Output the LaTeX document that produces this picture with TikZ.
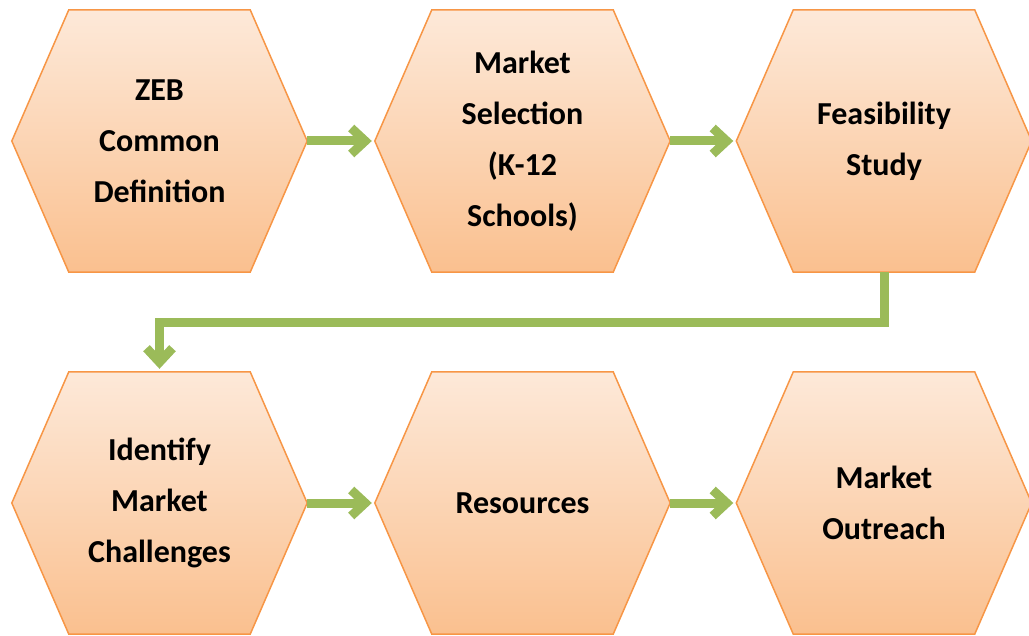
\documentclass[tikz,border=0pt]{standalone}
\usepackage{fontspec}
\setmainfont{Carlito}
\usetikzlibrary{calc}
\usetikzlibrary{arrows.meta}
\usetikzlibrary{backgrounds}

\definecolor{hexline}{HTML}{F79646}
\definecolor{hextop}{HTML}{FDE9D9}
\definecolor{hexbottom}{HTML}{FAC08F}
\definecolor{flowgreen}{HTML}{9BBB59}

\tikzset{
  hexbox/.style={minimum width=295pt, minimum height=262pt, inner sep=0pt, align=center,
    font=\fontsize{32}{51}\selectfont\bfseries},
  flow/.style={flowgreen, line width=9pt, -{Straight Barb[length=14pt,width=26pt]}, shorten >=3pt},
}

\begin{document}
\begin{tikzpicture}[x=1pt, y=-1pt]
\useasboundingbox (0,0) rectangle (1029,636);

\node[hexbox] (zeb)   at (159.5,141) {ZEB\\Common\\Definition};
\node[hexbox] (sel)   at (522.5,141) {Market\\Selection\\(K-12\\Schools)};
\node[hexbox] (feas)  at (884,141)   {Feasibility\\Study};
\node[hexbox] (chal)  at (159.5,503) {Identify\\Market\\Challenges};
\node[hexbox] (res)   at (522.5,503) {Resources};
\node[hexbox] (reach) at (884,503)   {Market\\Outreach};

\begin{scope}[on background layer]
\foreach \n in {zeb, sel, feas, chal, res, reach} {
  \fill[black, opacity=.12, shift={(3,4)}] (\n.west) -- ($(\n.north west)+(57,0)$) -- ($(\n.north east)+(-57,0)$) -- (\n.east) -- ($(\n.south east)+(-57,0)$) -- ($(\n.south west)+(57,0)$) -- cycle;
  \draw[hexline, line width=1.5pt, top color=hextop, bottom color=hexbottom] (\n.west) -- ($(\n.north west)+(57,0)$) -- ($(\n.north east)+(-57,0)$) -- (\n.east) -- ($(\n.south east)+(-57,0)$) -- ($(\n.south west)+(57,0)$) -- cycle;
}
\end{scope}

\draw[flow] (zeb.east) -- (sel.west);
\draw[flow] (sel.east) -- (feas.west);
\draw[flow] (feas.south) -- ++(0,50) -| (chal.north);
\draw[flow] (chal.east) -- (res.west);
\draw[flow] (res.east) -- (reach.west);

\end{tikzpicture}
\end{document}
